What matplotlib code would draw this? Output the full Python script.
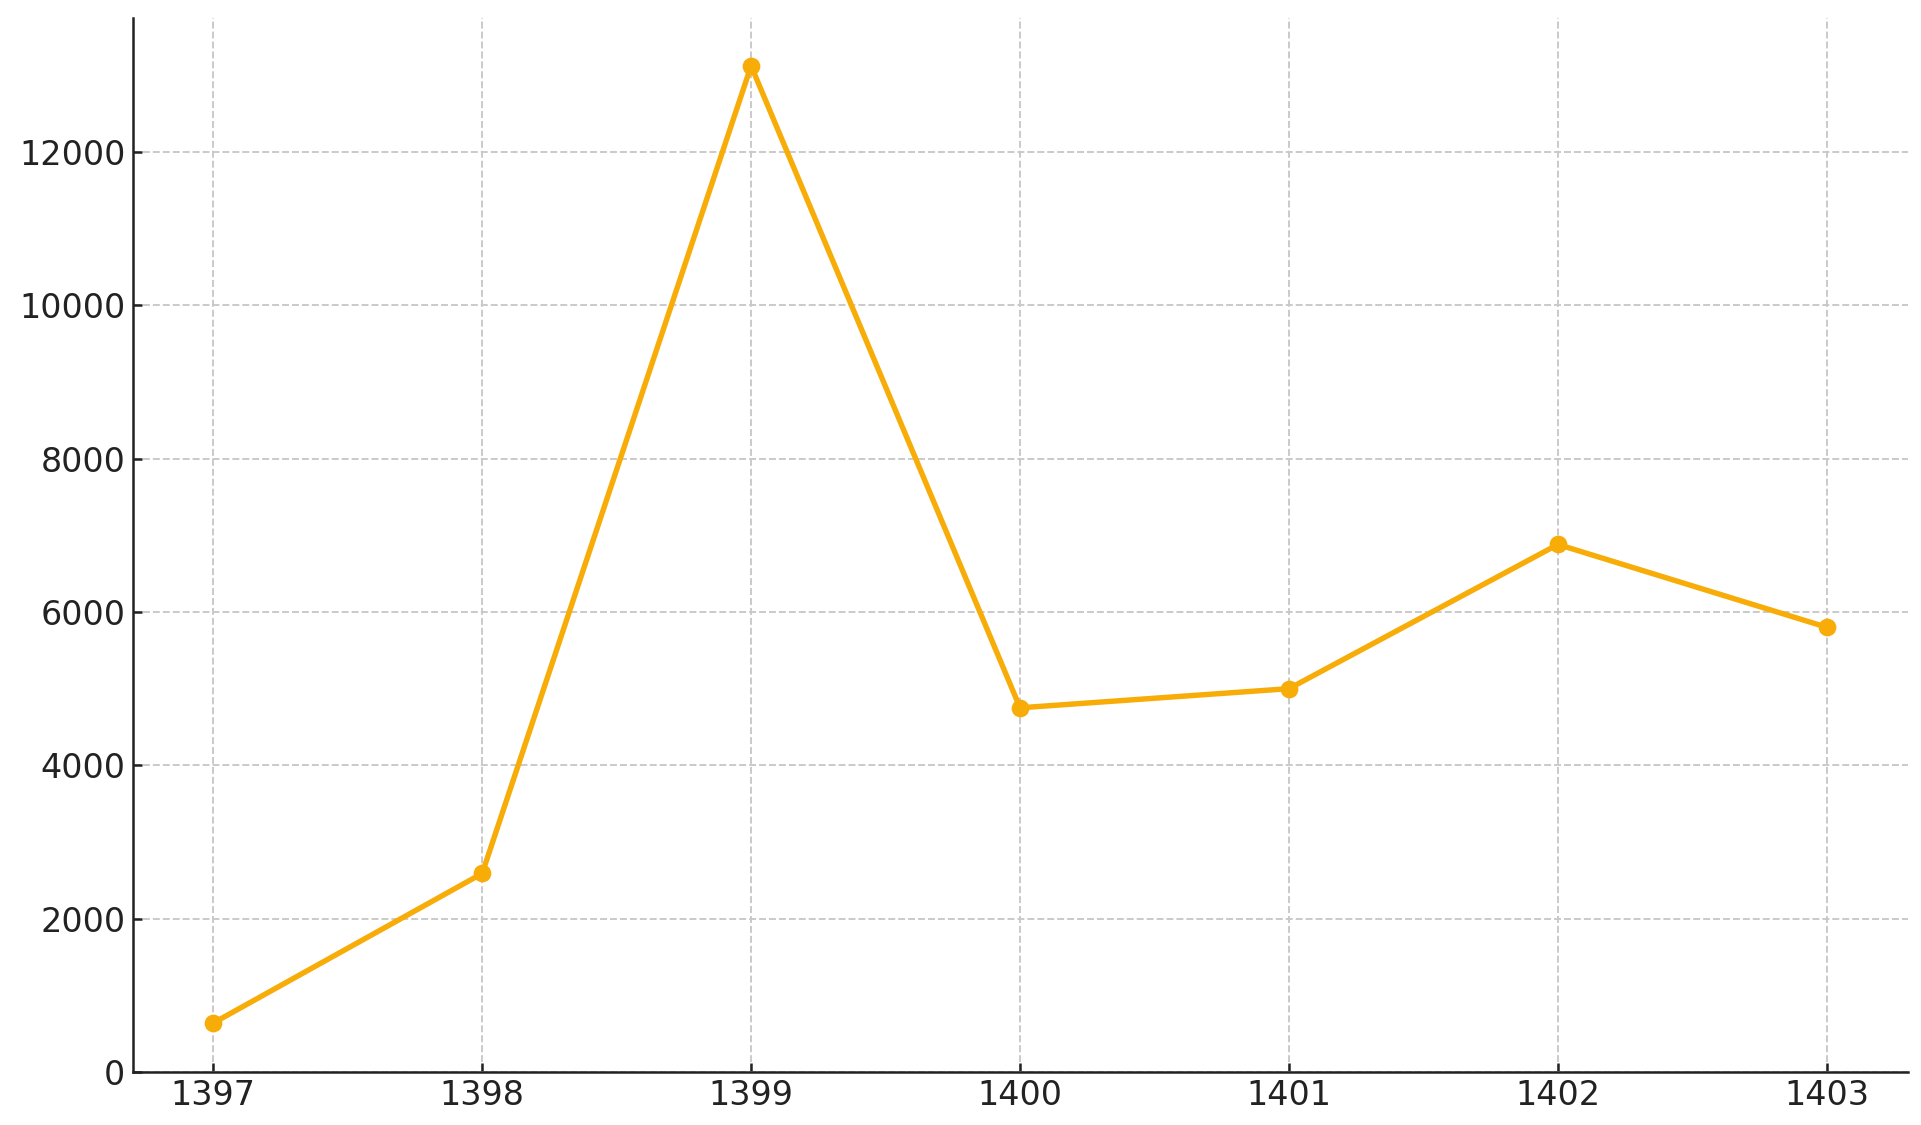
import matplotlib

matplotlib.use("Agg")
import matplotlib.pyplot as plt

years = [1397, 1398, 1399, 1400, 1401, 1402, 1403]
values = [640, 2590, 13120, 4750, 5000, 6880, 5800]

LINE_COLOR = "#F7AC08"

fig, ax = plt.subplots(figsize=(1921 / 150, 1125 / 150), dpi=150)
fig.subplots_adjust(left=0.069, right=0.993, bottom=0.047, top=0.984)

ax.plot(years, values, color=LINE_COLOR, linewidth=2.6, marker="o",
        markersize=7.5, zorder=3)

ax.set_ylim(bottom=0)
ax.set_xticks(years)
ax.grid(True, linestyle="--", color="#c8c8c8", linewidth=0.9)
ax.set_axisbelow(True)
for side in ("top", "right"):
    ax.spines[side].set_visible(False)
for side in ("left", "bottom"):
    ax.spines[side].set_linewidth(1.2)
    ax.spines[side].set_color("#222222")
ax.tick_params(direction="in", length=4.5, width=1.2, labelsize=16,
               colors="#222222")

fig.savefig("out.png")
